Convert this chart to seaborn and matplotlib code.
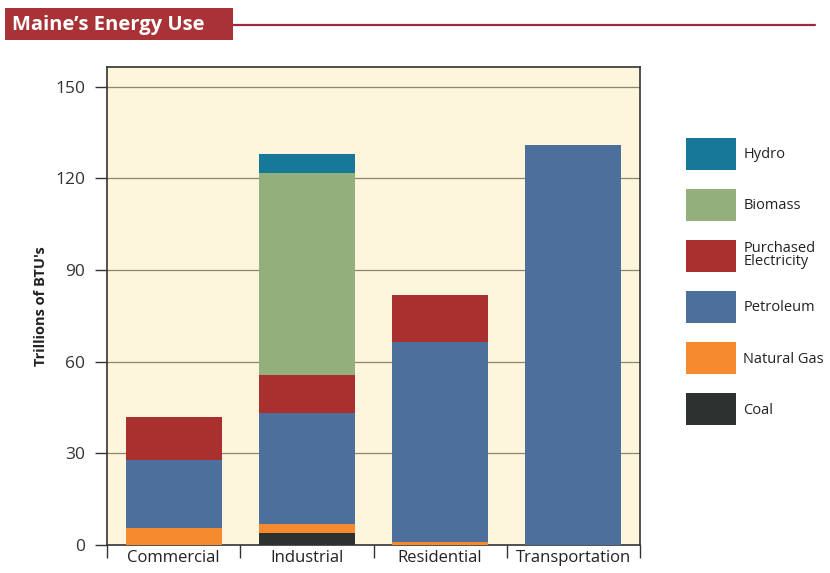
import numpy as np
import pandas as pd
import seaborn as sns
import matplotlib.pyplot as plt
from matplotlib.patches import Patch, Rectangle
from matplotlib.lines import Line2D

# data (trillions of BTU)
sectors = ["Commercial", "Industrial", "Residential", "Transportation"]
coal = [0, 3.8, 0, 0]
natural_gas = [5.5, 3.0, 1.0, 0]
petroleum = [22.3, 36.3, 65.6, 131.0]
electricity = [14.2, 12.6, 15.3, 0]
biomass = [0, 66.1, 0, 0]
hydro = [0, 6.2, 0, 0]

sources = ["Coal", "Natural Gas", "Petroleum", "Purchased\nElectricity", "Biomass", "Hydro"]
colors = ["#2c3230", "#f58a2e", "#4c6f9c", "#a9302f", "#93b07c", "#17789a"]
values = [coal, natural_gas, petroleum, electricity, biomass, hydro]

df = pd.DataFrame({"sector": sectors})
for name, vals in zip(sources, values):
    df[name] = vals
cum = df[sources].cumsum(axis=1)

sns.set_theme(style="white")
plt.rcParams["font.family"] = ["Open Sans", "DejaVu Sans"]

fig = plt.figure(figsize=(8.3, 5.73), dpi=100)
ax = fig.add_axes([0.129, 0.049, 0.642, 0.834])
ax.set_facecolor("#fdf6dc")

# draw cumulative totals from the top layer down so each layer covers the one above
for name, col in reversed(list(zip(sources, colors))):
    sns.barplot(x=df["sector"], y=cum[name], color=col, width=0.72,
                saturation=1, ax=ax, zorder=3, edgecolor="none", linewidth=0)

ax.set_ylim(0, 156.5)
ax.set_xlim(-0.5, 3.5)
ax.set_yticks([0, 30, 60, 90, 120, 150])
for y in [30, 60, 90, 120, 150]:
    ax.axhline(y, color="#8c8474", lw=0.9, zorder=1)

ax.set_xlabel("")
ax.set_ylabel("Trillions of BTU's", fontsize=10.5, fontweight="bold", labelpad=5, color="#222222")
ax.tick_params(axis="y", direction="out", length=8.6, width=1, color="#333333",
               labelsize=12.5, labelcolor="#333333", pad=7, left=True)
ax.set_xticks(range(4))
ax.set_xticklabels(sectors)
ax.tick_params(axis="x", which="major", length=0, labelsize=12, labelcolor="#222222", pad=4)
ax.set_xticks([-0.5, 0.5, 1.5, 2.5, 3.5], minor=True)
ax.tick_params(axis="x", which="minor", direction="out", length=9, width=1, color="#333333", bottom=True)
for sp in ax.spines.values():
    sp.set_color("#333333")
    sp.set_linewidth(1.2)

# legend
handles = [Patch(facecolor=c, edgecolor="none") for c in reversed(colors)]
labels = list(reversed(sources))
leg = fig.legend(handles, labels, loc="upper left", bbox_to_anchor=(0.820, 0.77),
                 frameon=False, fontsize=10.5, handlelength=3.43, handleheight=2.99,
                 labelspacing=1.32, handletextpad=0.48, borderaxespad=0)
for t in leg.get_texts():
    t.set_color("#222222")
    t.set_linespacing(0.85)

# title bar
fig.patches.append(Rectangle((0.006, 0.930), 0.275, 0.056, transform=fig.transFigure,
                             facecolor="#a83236", edgecolor="none", zorder=2))
fig.lines.append(Line2D([0.281, 0.982], [0.956, 0.956], transform=fig.transFigure,
                        color="#a0283c", lw=1.6))
fig.text(0.015, 0.957, "Maine\u2019s Energy Use", color="white", fontsize=14.5,
         fontweight="bold", va="center", ha="left", zorder=3)

fig.savefig("out.png", dpi=100)
